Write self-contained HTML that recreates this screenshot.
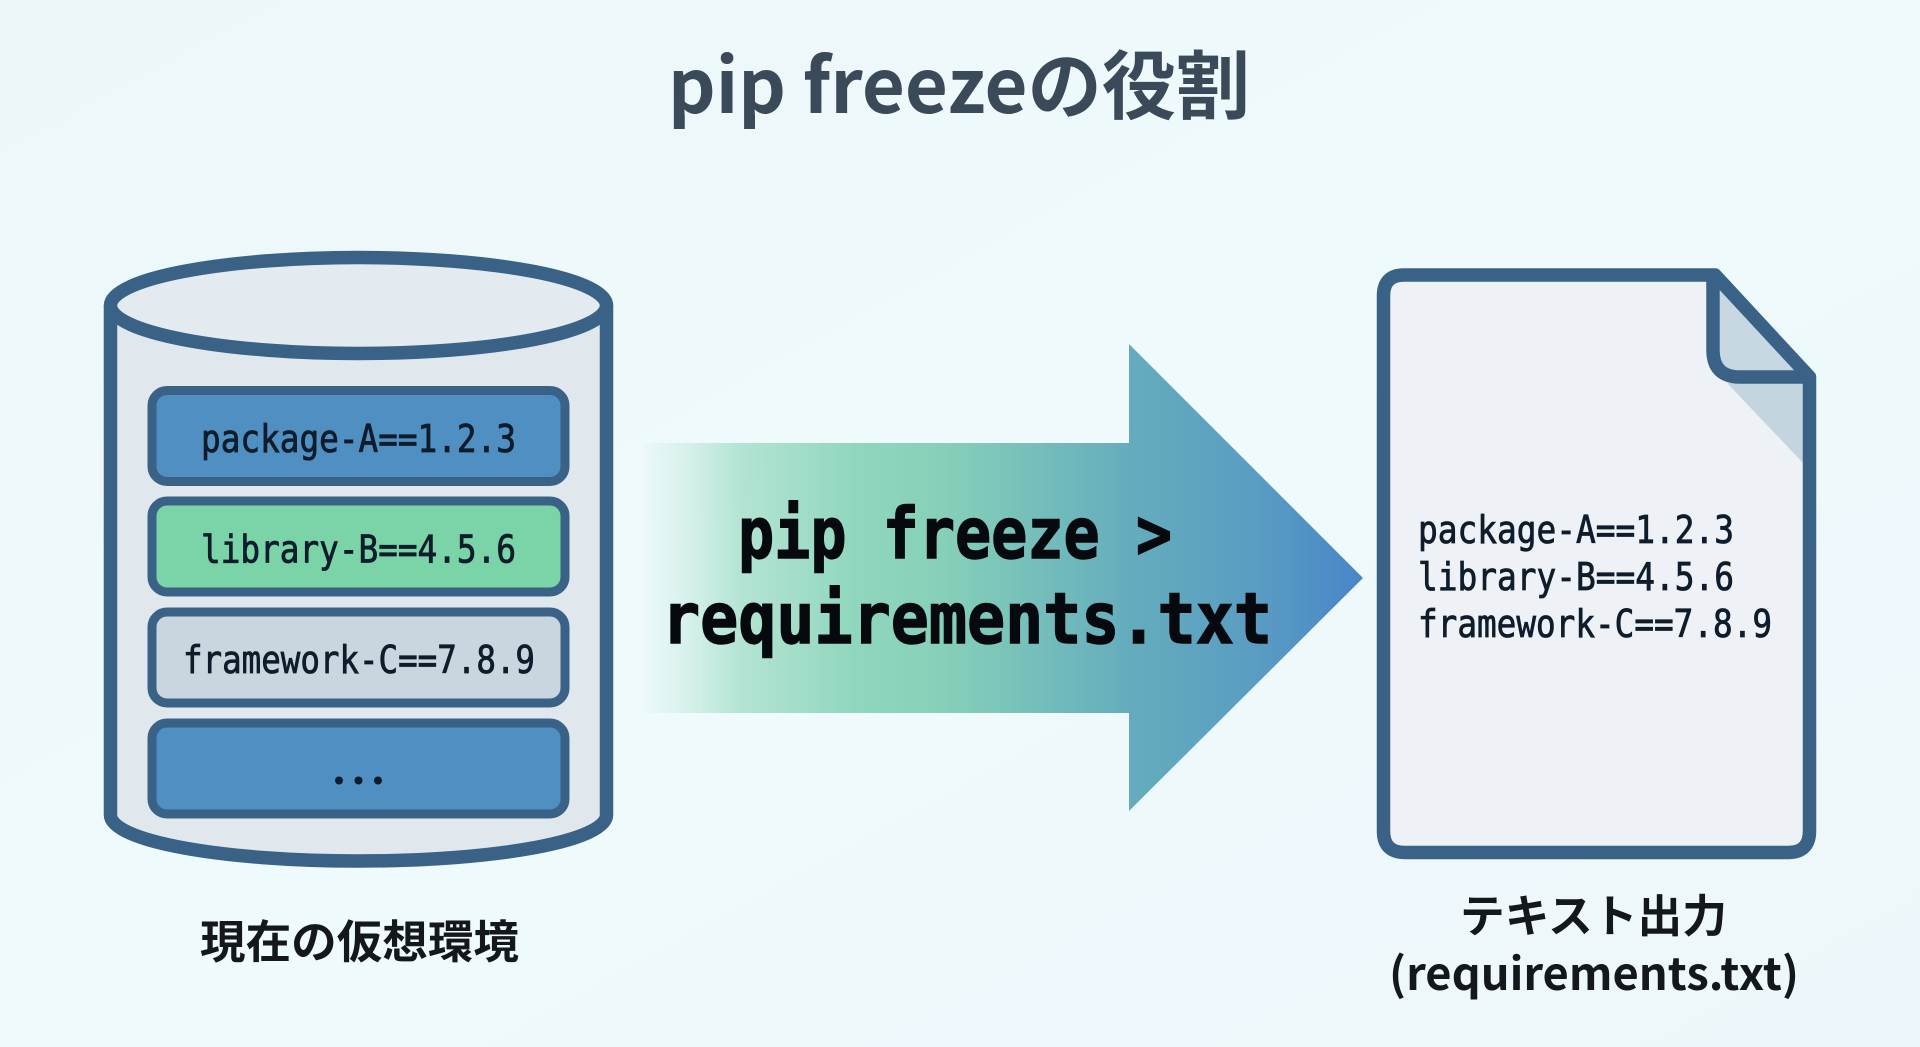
<!DOCTYPE html>
<html lang="ja"><head><meta charset="utf-8"><title>pip freezeの役割</title>
<style>html,body{margin:0;padding:0;width:1920px;height:1047px;overflow:hidden;background:#eef9fb}
svg{display:block}
.jp{font-family:"Noto Sans CJK JP",sans-serif;font-weight:700}
.m{font-family:"DejaVu Sans Mono","Liberation Mono",monospace;font-size:38px;fill:#0e1c2b;stroke:#0e1c2b;stroke-width:.8px}
.b{font-family:"DejaVu Sans Mono","Liberation Mono",monospace;font-size:70px;font-weight:700;fill:#06090d;stroke:#06090d;stroke-width:1.4px}
</style></head><body>
<svg width="1920" height="1047" viewBox="0 0 1920 1047" xmlns="http://www.w3.org/2000/svg">
<defs>
<linearGradient id="bg" x1="0" y1="0" x2="1" y2="1"><stop offset="0" stop-color="#ecf7fa"/><stop offset=".5" stop-color="#effafc"/><stop offset="1" stop-color="#edf7fb"/></linearGradient>
<linearGradient id="ar" gradientUnits="userSpaceOnUse" x1="640" y1="0" x2="1363" y2="0">
<stop offset="0" stop-color="#8fd6bd" stop-opacity="0"/>
<stop offset=".05" stop-color="#a8dfcb" stop-opacity=".25"/>
<stop offset=".14" stop-color="#a4dec9" stop-opacity=".8"/>
<stop offset=".3" stop-color="#8fd6bd"/>
<stop offset=".42" stop-color="#86d0b9"/>
<stop offset=".68" stop-color="#64acbd"/>
<stop offset=".85" stop-color="#5a9dc2"/>
<stop offset="1" stop-color="#4886c8"/>
</linearGradient>
</defs>
<rect width="1920" height="1047" fill="url(#bg)"/>
<text class="jp" x="668" y="113" font-size="75" fill="#3a4a58" textLength="582" lengthAdjust="spacingAndGlyphs">pip freezeの役割</text>

<!-- cylinder -->
<path d="M110.500 305.500V815C110.500 841 221 861 358.500 861S606.500 841 606.500 815V305.500" fill="#e0e8ee" stroke="#3a6286" stroke-width="13.500"/>
<ellipse cx="358.500" cy="305.500" rx="248" ry="48" fill="#e3ebf0" stroke="#3a6286" stroke-width="13.500"/>
<g stroke="#3a6286" stroke-width="9">
<rect x="152" y="390.500" width="413" height="91" rx="15" fill="#4f8fc2"/>
<rect x="152" y="501" width="413" height="91" rx="15" fill="#7bd3a8"/>
<rect x="152" y="612" width="413" height="91" rx="15" fill="#c9d6df"/>
<rect x="152" y="723" width="413" height="91" rx="15" fill="#4f8fc2"/>
</g>
<text class="m" x="201" y="452" textLength="315" lengthAdjust="spacingAndGlyphs">package-A==1.2.3</text>
<text class="m" x="201" y="562.500" textLength="315" lengthAdjust="spacingAndGlyphs">library-B==4.5.6</text>
<text class="m" x="183" y="673" textLength="352" lengthAdjust="spacingAndGlyphs">framework-C==7.8.9</text>
<g fill="#0e1c2b"><circle cx="339" cy="780.500" r="4"/><circle cx="358.500" cy="780.500" r="4"/><circle cx="378" cy="780.500" r="4"/></g>
<text class="jp" x="200" y="958" font-size="45.500" fill="#14181d" textLength="319" lengthAdjust="spacingAndGlyphs">現在の仮想環境</text>

<!-- arrow -->
<path d="M640 443H1129V344L1363 578L1129 811V713H640Z" fill="url(#ar)"/>
<text class="b" x="738" y="558" textLength="434" lengthAdjust="spacingAndGlyphs" xml:space="preserve">pip freeze &gt;</text>
<text class="b" x="662" y="643" textLength="610" lengthAdjust="spacingAndGlyphs">requirements.txt</text>

<!-- document -->
<path d="M1400 275H1715L1809 377V831Q1809 852.500 1788 852.500H1405Q1383.500 852.500 1383.500 831V296Q1383.500 275 1400 275Z" fill="#eef1f5"/>
<path d="M1727 383L1803 383V463Z" fill="#c5d5e0"/>
<path d="M1713 275V350Q1713 377 1740 377H1809Z" fill="#c8d8e2"/>
<path d="M1713 275V350Q1713 377 1740 377H1809" fill="none" stroke="#3a6286" stroke-width="13.500"/>
<path d="M1404 275H1715L1809.500 377V831Q1809.500 852.500 1788 852.500H1405Q1383.500 852.500 1383.500 831V296Q1383.500 275 1404 275Z" fill="none" stroke="#3a6286" stroke-width="13.500" stroke-linejoin="round"/>
<text class="m" x="1418" y="543" textLength="316" lengthAdjust="spacingAndGlyphs">package-A==1.2.3</text>
<text class="m" x="1418" y="590" textLength="316" lengthAdjust="spacingAndGlyphs">library-B==4.5.6</text>
<text class="m" x="1418" y="637" textLength="354" lengthAdjust="spacingAndGlyphs">framework-C==7.8.9</text>
<text class="jp" x="1460" y="932" font-size="45" fill="#14181d" textLength="267" lengthAdjust="spacingAndGlyphs">テキスト出力</text>
<text class="jp" x="1389" y="990" font-size="45" fill="#14181d" textLength="410" lengthAdjust="spacingAndGlyphs">(requirements.txt)</text>
</svg>
</body></html>
